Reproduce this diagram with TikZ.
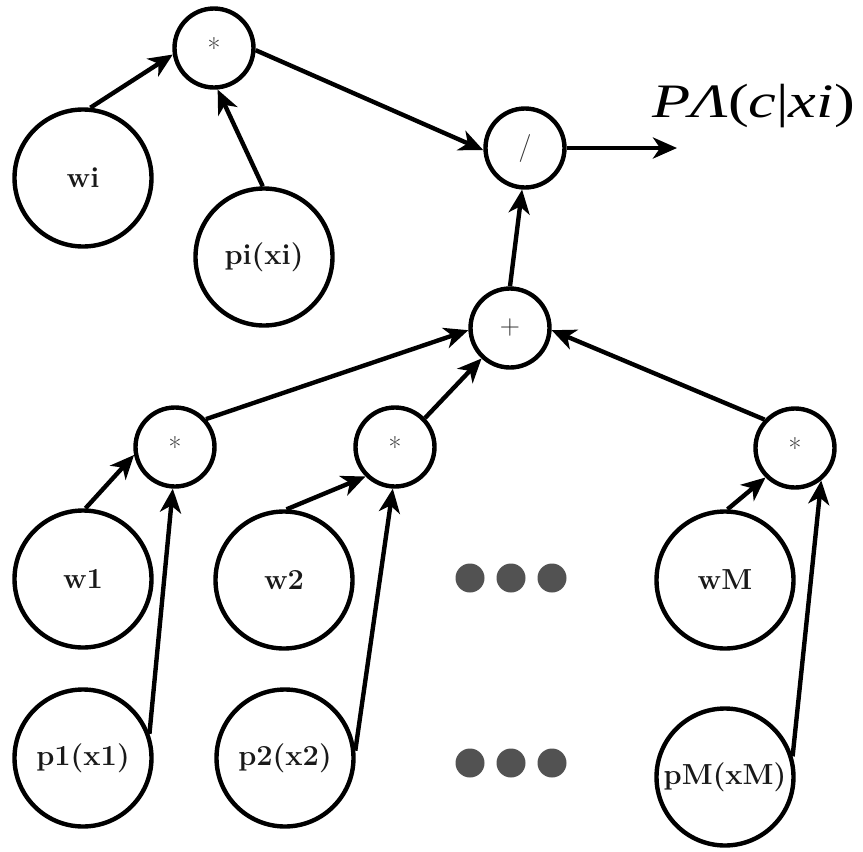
\documentclass[tikz,border=0pt]{standalone}
\usepackage{fontspec}
\newfontfamily\lblfont{Liberation Serif}
\usepackage{graphicx}
\usetikzlibrary{arrows.meta}
\begin{document}
\begin{tikzpicture}[x=1pt,y=-1pt,
  big/.style={circle,draw,line width=4.4pt,minimum size=137pt,inner sep=0pt,
    font=\bfseries\fontsize{29}{33}\selectfont,text=black!90},
  op/.style={circle,draw,line width=4.4pt,minimum size=79pt,inner sep=0pt,
    font=\fontsize{28}{32}\selectfont,text=black!80},
  arr/.style={line width=4.4pt,-{Stealth[length=24pt,width=21pt,inset=7pt]}},
  dotn/.style={circle,fill=black!68,minimum size=29pt,inner sep=0pt}]
\useasboundingbox (0,0) rectangle (863,852);
\fill[white] (0,0) rectangle (863,852);

% operator nodes
\node[op] (m0) at (214,48) {*};
\node[op] (div) at (525,148) {/};
\node[op] (plus) at (510,328) {+};
\node[op] (m1) at (175,447) {*};
\node[op] (m2) at (395,447) {*};
\node[op] (mM) at (795,448) {*};

% value nodes
\node[big] (wi) at (83,178) {wi};
\node[big] (pi) at (264,257) {pi(xi)};
\node[big] (w1) at (83,579) {w1};
\node[big] (w2) at (284,580) {w2};
\node[big] (wM) at (725,580) {wM};
\node[big] (p1) at (83,758) {p1(x1)};
\node[big] (p2) at (285,758) {p2(x2)};
\node[big] (pM) at (725,777) {pM(xM)};

% dots
\foreach \i/\x in {1/470,2/511,3/552}{
  \node[dotn] (da\i) at (\x,578) {};
  \node[dotn] (db\i) at (\x,763) {};
}

% output label
\coordinate (out) at (677,148);
\node[anchor=base west,inner sep=0pt,font=\lblfont\fontsize{48}{54}\selectfont] (lbl) at (652,117)
  {\scalebox{1.3}[1]{\itshape PΛ\upshape(\itshape c\upshape|\itshape xi\upshape)}};

% connectors
\draw[arr] (wi.84) -- (m0.189);
\draw[arr] (pi.91) -- (m0.275);
\draw[arr] (m0.357) -- (div.183);
\draw[arr] (plus.90) -- (div.266);
\draw[arr] (div.east) -- (out);
\draw[arr] (m1.42) -- (plus.183);
\draw[arr] (m2.44) -- (plus.227);
\draw[arr] (mM.137) -- (plus.357);
\draw[arr] (w1.88) -- (m1.191);
\draw[arr] (p1.20) -- (m1.267);
\draw[arr] (w2.88) -- (m2.225);
\draw[arr] (p2.6) -- (m2.267);
\draw[arr] (wM.88) -- (mM.225);
\draw[arr] (pM.17) -- (mM.309);
\end{tikzpicture}
\end{document}
